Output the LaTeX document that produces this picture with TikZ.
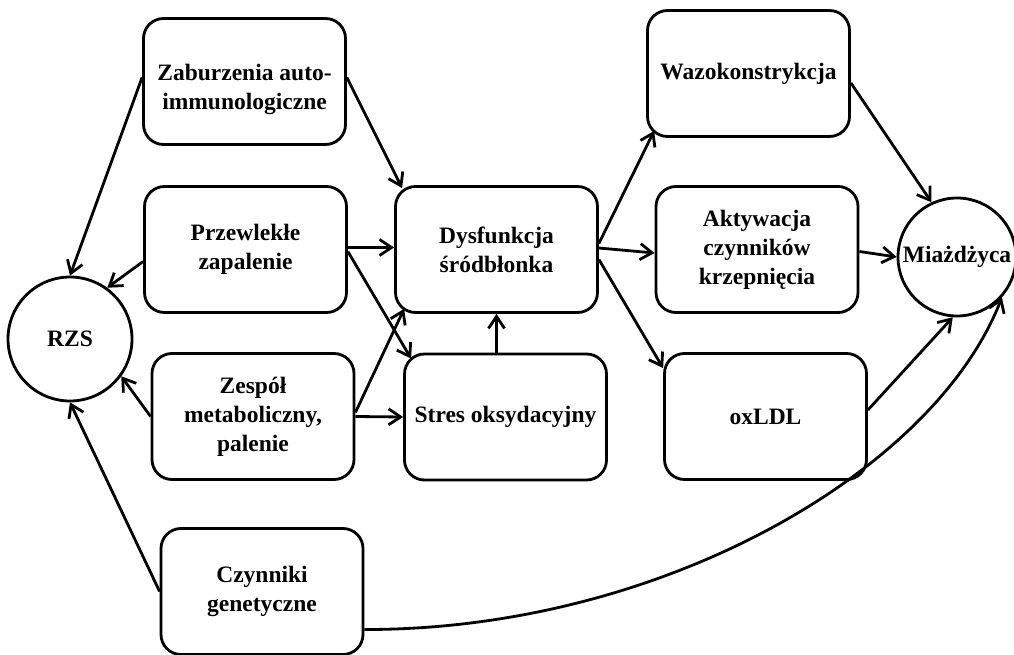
\documentclass[tikz,border=0pt]{standalone}
\usepackage{fontspec}
\setmainfont{Liberation Serif}
\usetikzlibrary{arrows.meta}
\begin{document}
\begin{tikzpicture}[x=1pt,y=-1pt,
  txt/.style={font=\bfseries\fontsize{23.5}{29}\selectfont},
  box/.style={txt, draw, line width=2.8pt, rounded corners=20pt, minimum width=202pt,
    minimum height=126pt, inner sep=0pt, align=center},
  circ/.style={txt, draw, circle, line width=2.8pt, inner sep=0pt},
  arr/.style={line width=2.8pt, -{Straight Barb[length=12pt,width=16pt]}}]
\useasboundingbox (0,0) rectangle (1014,655);
% nodes
\node[box, label={[txt, align=center, yshift=-8pt]center:Zaburzenia auto-\\immunologiczne}] (zab) at (244.5,81.5) {};
\node[box] (prz) at (245.5,249.5) {Przewlekłe\\zapalenie};
\node[box] (zes) at (253,416.5) {Zespół\\metaboliczny,\\palenie};
\node[box] (czy) at (262,591.5) {Czynniki\\genetyczne};
\node[box] (dys) at (496.5,249.5) {Dysfunkcja\\śródbłonka};
\node[box] (str) at (505.5,417) {Stres oksydacyjny};
\node[box] (waz) at (748.5,73.5) {Wazokonstrykcja};
\node[box] (akt) at (757,249.5) {Aktywacja\\czynników\\krzepnięcia};
\node[box] (oxl) at (765.5,416.5) {oxLDL};
\node[circ, minimum size=124pt] (rzs) at (70,339) {RZS};
\node[circ, minimum size=118pt] (mia) at (957,257) {Miażdżyca};
% connectors to RZS
\draw[arr] ([yshift=4pt]zab.west) -- (rzs.north);
\draw[arr] ([yshift=-12pt]prz.west) -- (rzs.54);
\draw[arr] (zes.west) -- (rzs.-36);
\draw[arr] (czy.west) -- (rzs.south);
% to Dysfunkcja / Stres
\draw[arr] ([yshift=4pt]zab.east) -- ([xshift=8pt,yshift=-3pt]dys.north west);
\draw[arr] ([yshift=2pt]prz.east) -- ([yshift=2pt]dys.west);
\draw[arr] ([yshift=-2pt]prz.east) -- ([xshift=8pt,yshift=-6pt]str.north west);
\draw[arr] ([yshift=4pt]zes.east) -- ([xshift=10pt,yshift=5pt]dys.south west);
\draw[arr] (zes.east) -- (str.west);
\draw[arr] (dys.south |- str.north) -- (dys.south);
% from Dysfunkcja
\draw[arr] ([yshift=6pt]dys.east) -- ([xshift=8pt,yshift=7pt]waz.south west);
\draw[arr] ([yshift=1.5pt]dys.east) -- ([yshift=-3.5pt]akt.west);
\draw[arr] ([yshift=-10pt]dys.east) -- ([yshift=-16pt]oxl.north west);
% to Miazdzyca
\draw[arr] ([yshift=-9.5pt]waz.east) -- (mia.115);
\draw[arr] ([yshift=-2pt]akt.east) -- (mia.west);
\draw[arr] ([yshift=6.5pt]oxl.east) -- (mia.-94);
\draw[arr] ([yshift=-38pt]czy.east) .. controls (663,630) and (935,470) .. (mia.-42);
\end{tikzpicture}
\end{document}
